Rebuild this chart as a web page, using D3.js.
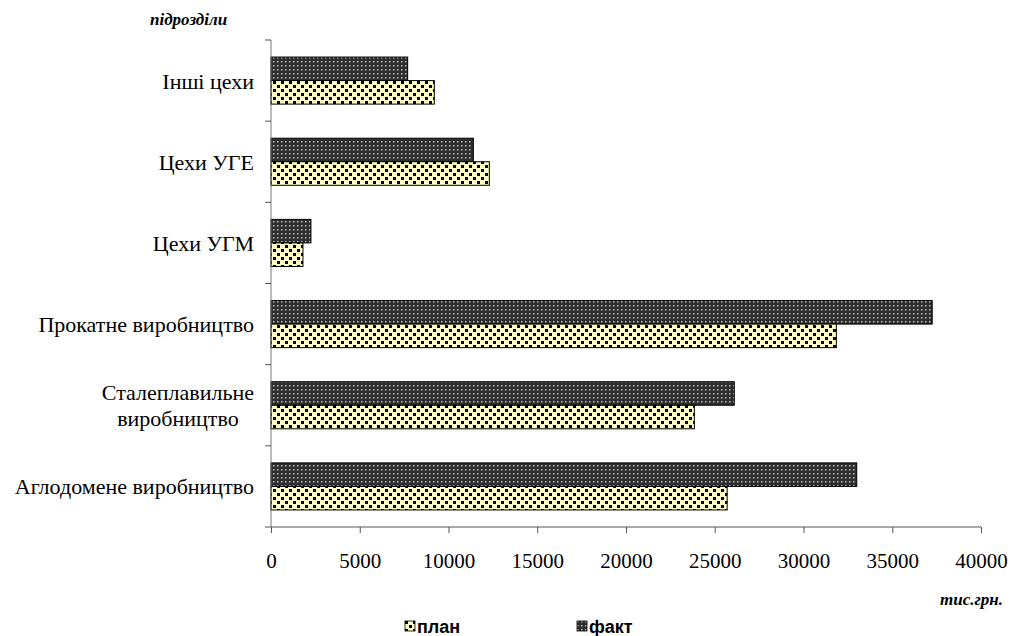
<!DOCTYPE html>
<html>
<head>
<meta charset="utf-8">
<script src="https://cdn.jsdelivr.net/npm/d3@7"></script>
<style>
  body { margin: 0; background: #fff; }
  svg text { font-family: "Liberation Serif", "DejaVu Serif", serif; }
</style>
</head>
<body>
<script>
// підрозділи, зверху вниз
const categories = ['Інші цехи', 'Цехи УГЕ', 'Цехи УГМ', 'Прокатне виробництво', 'Сталеплавильне виробництво', 'Аглодомене виробництво'];
// тис.грн.
const planValues = [9200, 12300, 1800, 31850, 23850, 25700];
const factValues = [7700, 11400, 2250, 37250, 26100, 33000];
const xTicks = [0, 5000, 10000, 15000, 20000, 25000, 30000, 35000, 40000];

const width = 1010;
const height = 636;
const margin = { top: 40, right: 29, bottom: 109, left: 271 };
const serif = '"Liberation Serif", "DejaVu Serif", serif';

const svg = d3.select('body').append('svg')
  .attr('width', width)
  .attr('height', height);

const defs = svg.append('defs');

// візерунок "план": світло-жовтий фон з чорними квадратиками
const pPlan = defs.append('pattern')
  .attr('id', 'patPlan')
  .attr('patternUnits', 'userSpaceOnUse')
  .attr('width', 8).attr('height', 8);
pPlan.append('rect').attr('width', 8).attr('height', 8).attr('fill', '#ffffc4');
pPlan.append('rect').attr('x', 1).attr('y', 1).attr('width', 3).attr('height', 3).attr('fill', '#000');
pPlan.append('rect').attr('x', 5).attr('y', 5).attr('width', 3).attr('height', 3).attr('fill', '#000');

// візерунок "факт": темний фон зі світлими крапками
const pFact = defs.append('pattern')
  .attr('id', 'patFact')
  .attr('patternUnits', 'userSpaceOnUse')
  .attr('width', 4).attr('height', 4);
pFact.append('rect').attr('width', 4).attr('height', 4).attr('fill', '#2e2e2e');
pFact.append('rect').attr('x', 1).attr('y', 1).attr('width', 1.5).attr('height', 1.5).attr('fill', '#bdbdbd');

const x = d3.scaleLinear()
  .domain([0, 40000])
  .range([margin.left, width - margin.right]);

const y = d3.scaleBand()
  .domain(categories)
  .range([margin.top, height - margin.bottom])
  .paddingInner(0.42)
  .paddingOuter(0.21);

const sub = d3.scaleBand()
  .domain(['fact', 'plan'])
  .range([0, y.bandwidth()]);

// бари
categories.forEach((c, i) => {
  svg.append('rect')
    .attr('x', x(0))
    .attr('y', y(c) + sub('fact'))
    .attr('width', x(factValues[i]) - x(0))
    .attr('height', sub.bandwidth())
    .attr('fill', 'url(#patFact)')
    .attr('stroke', '#000')
    .attr('stroke-width', 1);

  svg.append('rect')
    .attr('x', x(0))
    .attr('y', y(c) + sub('plan'))
    .attr('width', x(planValues[i]) - x(0))
    .attr('height', sub.bandwidth())
    .attr('fill', 'url(#patPlan)')
    .attr('stroke', '#000')
    .attr('stroke-width', 1);
});

// вісь X
const xAxis = d3.axisBottom(x)
  .tickValues(xTicks)
  .tickSize(6)
  .tickPadding(20)
  .tickFormat(d => d);

const gx = svg.append('g')
  .attr('transform', `translate(0, ${height - margin.bottom})`)
  .call(xAxis);
gx.attr('font-family', null).attr('font-size', null);
gx.select('.domain').attr('stroke', '#555').attr('d', `M${x(0)},0H${x(40000)}`);
gx.selectAll('.tick line').attr('stroke', '#555');
gx.selectAll('.tick text')
  .style('font-family', serif)
  .style('font-size', '21px')
  .attr('fill', '#000');

// вісь Y (засічки на межах категорій)
const step = y.step();
const bounds = d3.range(categories.length + 1).map(i => margin.top + i * step);
svg.append('line')
  .attr('x1', x(0)).attr('x2', x(0))
  .attr('y1', margin.top).attr('y2', height - margin.bottom)
  .attr('stroke', '#777');
svg.selectAll('.ytick')
  .data(bounds)
  .enter()
  .append('line')
  .attr('x1', x(0) - 6).attr('x2', x(0))
  .attr('y1', d => d).attr('y2', d => d)
  .attr('stroke', '#555');

// підписи категорій
const labelRight = x(0) - 17;
categories.forEach(c => {
  const cy = y(c) + y.bandwidth() / 2;
  const lines = c === 'Сталеплавильне виробництво' ? ['Сталеплавильне', 'виробництво'] : [c];
  const g = svg.append('g');
  const texts = lines.map((t, k) => g.append('text')
    .style('font-family', serif)
    .style('font-size', '22px')
    .attr('y', cy + 8 + (k - (lines.length - 1) / 2) * 26)
    .text(t));
  const widths = texts.map(t => t.node().getComputedTextLength());
  const maxW = d3.max(widths);
  texts.forEach((t, k) => {
    t.attr('x', labelRight - maxW + (maxW - widths[k]) / 2);
  });
});

// назви осей
svg.append('text')
  .attr('x', 150).attr('y', 25)
  .style('font-family', serif)
  .style('font-size', '17px')
  .attr('font-weight', 'bold')
  .attr('font-style', 'italic')
  .text('підрозділи');

svg.append('text')
  .attr('x', 1003).attr('y', 605)
  .attr('text-anchor', 'end')
  .style('font-family', serif)
  .style('font-size', '17px')
  .attr('font-weight', 'bold')
  .attr('font-style', 'italic')
  .text('тис.грн.');

// легенда
const legend = [
  { name: 'план', fill: 'url(#patPlan)', x: 405 },
  { name: 'факт', fill: 'url(#patFact)', x: 577 }
];
legend.forEach(l => {
  svg.append('rect')
    .attr('x', l.x).attr('y', 621)
    .attr('width', 10).attr('height', 10)
    .attr('fill', l.fill)
    .attr('stroke', '#000')
    .attr('stroke-width', 0.8);
  svg.append('text')
    .attr('x', l.x + 12).attr('y', 633)
    .style('font-family', '"Liberation Sans", Arial, sans-serif')
    .style('font-size', '18px')
    .attr('font-weight', 'bold')
    .text(l.name);
});
</script>
</body>
</html>
